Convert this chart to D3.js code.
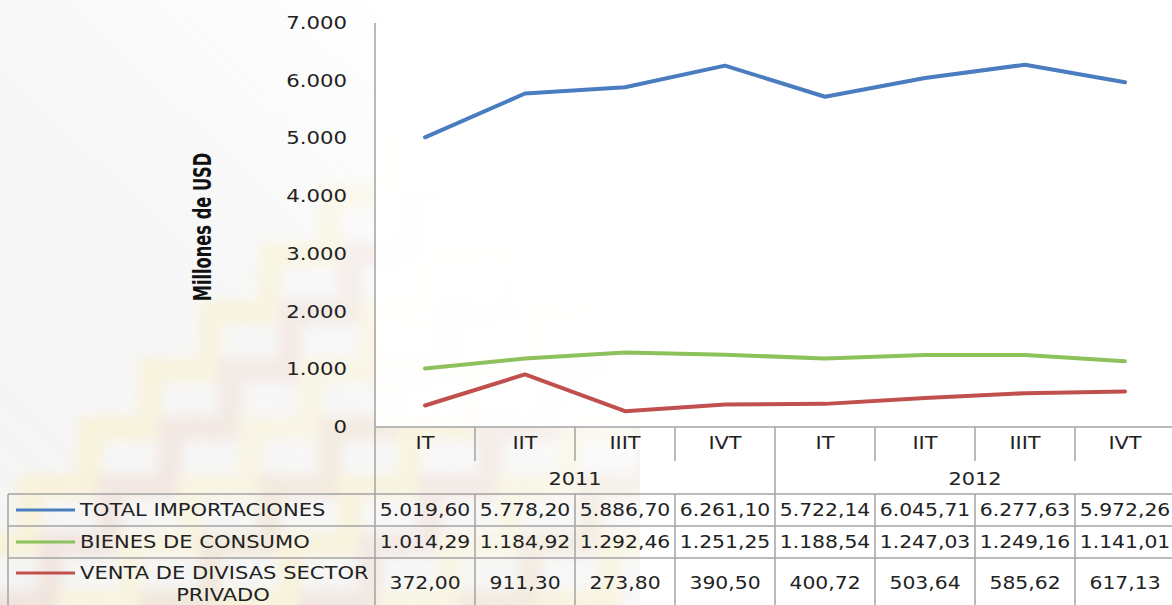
<!DOCTYPE html>
<html>
<head>
<meta charset="utf-8">
<script src="https://cdn.jsdelivr.net/npm/d3@7"></script>
<style>
  body { margin: 0; background: #fff; }
  svg { display: block; }
</style>
</head>
<body>
<div id="chart"></div>
<script>
// data
const quarters = ['IT', 'IIT', 'IIIT', 'IVT', 'IT', 'IIT', 'IIIT', 'IVT'];
const years = ['2011', '2012'];
const totalImportaciones = [5019.60, 5778.20, 5886.70, 6261.10, 5722.14, 6045.71, 6277.63, 5972.26];
const bienesConsumo = [1014.29, 1184.92, 1292.46, 1251.25, 1188.54, 1247.03, 1249.16, 1141.01];
const ventaDivisas = [372.00, 911.30, 273.80, 390.50, 400.72, 503.64, 585.62, 617.13];
const seriesNames = [['TOTAL IMPORTACIONES'], ['BIENES DE CONSUMO'], ['VENTA DE DIVISAS SECTOR', 'PRIVADO']];
const yTicks = [0, 1000, 2000, 3000, 4000, 5000, 6000, 7000];

const width = 1172, height = 605;
const colors = ['#4a7cc0', '#8cc15b', '#c0504d'];
const allSeries = [totalImportaciones, bienesConsumo, ventaDivisas];

const es = d3.formatLocale({ decimal: ',', thousands: '.', grouping: [3], currency: ['', ''] });
const fmtVal = es.format(',.2f');
const fmtTick = es.format(',.0f');

const svg = d3.select('#chart').append('svg')
    .attr('width', width)
    .attr('height', height);

// faded staircase watermark on the left
const defs = svg.append('defs');
defs.append('filter').attr('id', 'blur')
    .append('feGaussianBlur').attr('stdDeviation', 6);
const fade = defs.append('linearGradient').attr('id', 'fade')
    .attr('x1', 0).attr('y1', 1).attr('x2', 1).attr('y2', 0);
fade.append('stop').attr('offset', '0%').attr('stop-color', '#fff').attr('stop-opacity', 1);
fade.append('stop').attr('offset', '50%').attr('stop-color', '#fff').attr('stop-opacity', 0.7);
fade.append('stop').attr('offset', '80%').attr('stop-color', '#fff').attr('stop-opacity', 0);
const mask = defs.append('mask').attr('id', 'wmask');
mask.append('rect').attr('x', 0).attr('y', 0).attr('width', 640).attr('height', height).attr('fill', 'url(#fade)');

svg.append('rect').attr('width', 640).attr('height', height).attr('fill', '#f2f2f2')
    .attr('mask', 'url(#wmask)').attr('opacity', 0.8);

const wm = svg.append('g').attr('mask', 'url(#wmask)').attr('filter', 'url(#blur)').attr('opacity', 0.55);
const stairColors = ['#fbefbf', '#eed8cc', '#fcf3cc', '#eedbc2'];
for (let k = 0; k < 9; k++) {
    let x = -150 + k * 80, y = 660;
    let d = `M${x},${y}`;
    for (let s = 0; s < 12; s++) {
        x += 60; d += `L${x},${y}`;
        y -= 58; d += `L${x},${y}`;
    }
    wm.append('path')
        .attr('d', d)
        .attr('fill', 'none')
        .attr('stroke', stairColors[k % stairColors.length])
        .attr('stroke-width', 24);
}

// scales
const x = d3.scaleBand().domain(d3.range(quarters.length)).range([375, 1175]);
const y = d3.scaleLinear().domain([0, 7000]).range([427, 23]);
const cx = i => x(i) + x.bandwidth() / 2;

const textColor = '#222';
const gridColor = '#a3a3a3';
const font = "'DejaVu Sans', Verdana, sans-serif";

// white plot background
svg.append('rect')
    .attr('x', 376).attr('y', 23)
    .attr('width', 800).attr('height', 404)
    .attr('fill', '#fff').attr('opacity', 0.9);

// y axis labels
const yg = svg.append('g');
yTicks.forEach(t => {
    yg.append('text')
        .attr('transform', `translate(347,${y(t)}) scale(1.18,1)`)
        .attr('text-anchor', 'end')
        .attr('dominant-baseline', 'central')
        .style('font-family', font)
        .style('font-size', '18px')
        .style('fill', textColor)
        .text(fmtTick(t));
});

// y axis title
svg.append('text')
    .attr('transform', 'translate(211,227) rotate(-90) scale(0.86,1.15)')
    .attr('text-anchor', 'middle')
    .style('font-family', "'Liberation Sans Narrow', 'DejaVu Sans Condensed', sans-serif")
    .style('font-weight', 'bold')
    .style('font-size', '21px')
    .style('fill', '#111')
    .text('Millones de USD');

// axis lines and table grid
const grid = svg.append('g')
    .attr('stroke', gridColor)
    .attr('stroke-width', 1.5)
    .attr('fill', 'none');

grid.append('line').attr('x1', 375).attr('x2', 375).attr('y1', 23).attr('y2', height);
grid.append('line').attr('x1', 375).attr('x2', 1175).attr('y1', 427).attr('y2', 427);
grid.append('line').attr('x1', 8).attr('x2', 1175).attr('y1', 494).attr('y2', 494);
grid.append('line').attr('x1', 8).attr('x2', 1175).attr('y1', 526).attr('y2', 526);
grid.append('line').attr('x1', 8).attr('x2', 1175).attr('y1', 558).attr('y2', 558);
grid.append('line').attr('x1', 8).attr('x2', 8).attr('y1', 494).attr('y2', height);

d3.range(1, quarters.length).forEach(i => {
    const xx = x(i);
    const yearEdge = i % 4 === 0;
    grid.append('line')
        .attr('x1', xx).attr('x2', xx)
        .attr('y1', 427).attr('y2', yearEdge ? height : 461);
    if (!yearEdge) {
        grid.append('line')
            .attr('x1', xx).attr('x2', xx)
            .attr('y1', 494).attr('y2', height);
    }
});

// category labels
const labelText = (g, xx, yy, txt, sx) => g.append('text')
    .attr('transform', `translate(${xx},${yy}) scale(${sx || 1.16},1)`)
    .attr('text-anchor', 'middle')
    .attr('dominant-baseline', 'central')
    .style('font-family', font)
    .style('font-size', '18px')
    .style('fill', textColor)
    .text(txt);

const cats = svg.append('g');
quarters.forEach((q, i) => labelText(cats, cx(i), 443, q));
years.forEach((yr, j) => labelText(cats, (x(j * 4) + x(j * 4 + 3) + x.bandwidth()) / 2, 479, yr));

// lines
const line = d3.line().x((d, i) => cx(i)).y(d => y(d));
allSeries.forEach((s, k) => {
    svg.append('path')
        .datum(s)
        .attr('d', line)
        .attr('fill', 'none')
        .attr('stroke', colors[k])
        .attr('stroke-width', 4)
        .attr('stroke-linejoin', 'round')
        .attr('stroke-linecap', 'round');
});

// data table
const rowMid = [510, 542, 583];
const table = svg.append('g');
const legendText = (xx, yy, txt) => table.append('text')
    .attr('transform', `translate(${xx},${yy}) scale(1.17,1)`)
    .attr('dominant-baseline', 'central')
    .style('font-family', font)
    .style('font-size', '18px')
    .style('fill', textColor)
    .text(txt);

allSeries.forEach((s, k) => {
    s.forEach((v, i) => labelText(table, cx(i), rowMid[k], fmtVal(v), 1.13));

    const keyY = k === 2 ? 573 : rowMid[k];
    table.append('line')
        .attr('x1', 16).attr('x2', 75)
        .attr('y1', keyY).attr('y2', keyY)
        .attr('stroke', colors[k])
        .attr('stroke-width', 3);

    const names = seriesNames[k];
    if (names.length === 1) {
        legendText(80, rowMid[k], names[0]);
    } else {
        legendText(80, 573, names[0]);
        labelText(table, 223, 595, names[1], 1.17);
    }
});
</script>
</body>
</html>
